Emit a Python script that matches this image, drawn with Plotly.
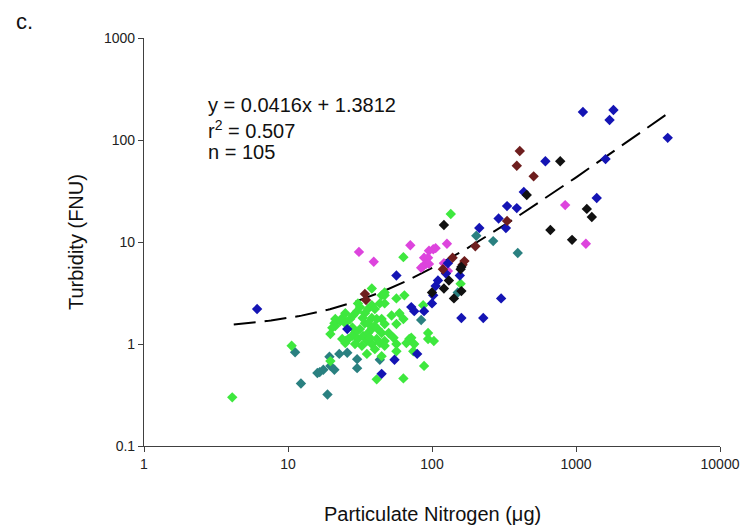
import numpy as np
import plotly.graph_objects as go

# ---- data ----
green_x = [4.1, 10.6, 19.7, 25, 21, 21.3, 23.8, 25, 21.3, 20.3, 23.1, 27, 28.3, 30.2, 31.6, 34.2, 35.9,
           38.2, 40.1, 43.4, 38.2, 41.3, 44.7, 34.2, 31.6, 29.2, 27.9, 26.2, 25, 23.8, 30.6, 33.2, 35.9,
           38.2, 42, 44.7, 35.3, 38.2, 41.3, 43.4, 32.6, 29.2, 35.3, 44.7, 40.1, 38.2, 44.7, 30.6, 46.9,
           56.6, 64.3, 46.9, 52.4, 59.4, 63.3, 46.9, 56.6, 50, 54.1, 46.9, 56.6, 66.4, 69.5, 75.3, 56.6,
           93.9, 93.9, 103, 88.1, 63.3, 74.1, 46.9, 46.9, 86.8, 71.8, 41.3, 63.3, 135, 158, 25, 19.7,
           36, 40, 33, 37, 28]
green_y = [0.30, 0.96, 0.68, 1.07, 1.6, 1.5, 1.8, 1.6, 1.76, 1.44, 1.68, 1.76, 1.9, 2.1, 2.3, 2.0, 2.2,
           2.4, 2.2, 2.5, 1.8, 1.76, 1.76, 1.6, 1.4, 1.28, 1.2, 1.12, 1.02, 1.12, 1.12, 1.2, 1.28,
           1.4, 1.4, 1.28, 1.07, 1.0, 1.12, 1.02, 0.96, 1.0, 0.80, 0.76, 0.89, 3.5, 3.0, 2.5, 3.0,
           2.8, 3.0, 2.5, 1.9, 2.0, 1.76, 1.57, 1.57, 1.28, 1.15, 1.07, 1.0, 1.02, 1.12, 1.0, 0.85,
           1.28, 1.12, 1.07, 0.61, 0.46, 0.85, 0.96, 3.2, 2.4, 1.15, 0.45, 7.1, 18.8, 3.9, 2.0, 1.25,
           1.6, 1.5, 1.8, 1.15, 1.45]

teal_x = [11.2, 12.3, 16.6, 17.6, 16.0, 18.8, 19.4, 21.0, 22.7, 25.8, 30.2, 19.7, 30.2, 43.4, 84.1,
          151, 203, 266, 394]
teal_y = [0.83, 0.41, 0.53, 0.56, 0.52, 0.32, 0.75, 0.56, 0.80, 0.82, 0.71, 0.61, 0.58, 0.70, 1.72,
          3.2, 11.5, 10.2, 7.8]

magenta_x = [31.1, 39.4, 70.7, 95.3, 102, 106, 127, 88.1, 93.9, 86.8, 91, 95.3, 84.1, 121, 129, 841, 1171]
magenta_y = [8.0, 6.4, 9.3, 8.2, 8.5, 8.7, 9.6, 7.0, 7.0, 5.8, 6.1, 6.1, 5.6, 6.2, 5.2, 23, 9.6]

blue_x = [6.1, 25.8, 44.7, 54.9, 78.9, 56.6, 71.8, 75.3, 88.1, 100, 102, 106, 110, 125, 129, 156, 160,
          227, 302, 213, 290, 332, 326, 388, 434, 613, 1117, 1820, 1710, 4335, 1604, 1393]
blue_y = [2.2, 1.40, 0.51, 0.70, 0.80, 4.7, 2.3, 2.1, 2.1, 2.5, 3.0, 3.7, 4.2, 4.9, 6.2, 4.7, 1.8,
          1.8, 2.8, 13.7, 17.0, 22.5, 13.7, 21.5, 31, 62, 188, 197, 157, 105, 65, 27]

maroon_x = [34.2, 34.8, 119, 139, 168, 163, 200, 332, 407, 388, 508]
maroon_y = [3.1, 2.7, 5.4, 7.0, 6.5, 6.0, 9.1, 16.1, 78, 56, 44]

black_x = [121, 100, 121, 131, 142, 160, 160, 158, 455, 777, 664, 939, 1189, 1288]
black_y = [14.7, 3.2, 3.5, 4.2, 2.8, 3.3, 5.7, 5.4, 28.9, 62, 13.1, 10.5, 21.1, 17.6]

# regression stated on the chart: y = 0.0416x + 1.3812
slope, intercept = 0.0416, 1.3812
trend_x = np.logspace(np.log10(4.2), np.log10(4400), 200)
trend_y = slope * trend_x + intercept

x_ticks = [1, 10, 100, 1000, 10000]
x_tick_labels = ["1", "10", "100", "1000", "10000"]
y_ticks = [0.1, 1, 10, 100, 1000]
y_tick_labels = ["0.1", "1", "10", "100", "1000"]

FONT = "Liberation Sans, Arial, sans-serif"

fig = go.Figure()

fig.add_trace(go.Scatter(x=trend_x, y=trend_y, mode="lines",
                         line=dict(color="black", width=2, dash="22px,9px"),
                         hoverinfo="skip"))

series = [
    (teal_x, teal_y, "#2a8080"),
    (green_x, green_y, "#3ee83e"),
    (magenta_x, magenta_y, "#dd44dd"),
    (blue_x, blue_y, "#1414b4"),
    (maroon_x, maroon_y, "#6e1e1e"),
    (black_x, black_y, "#111111"),
]
for xs, ys, c in series:
    fig.add_trace(go.Scatter(x=xs, y=ys, mode="markers",
                             marker=dict(symbol="diamond", size=8, color=c, line=dict(width=0))))

axis_common = dict(type="log", showgrid=False, zeroline=False, showline=True,
                   linecolor="#404040", linewidth=1.2, ticks="outside", ticklen=5,
                   tickcolor="#404040", tickfont=dict(family=FONT, size=14, color="#222"))

fig.update_xaxes(range=[0, 4], tickvals=x_ticks, ticktext=x_tick_labels, **axis_common)
fig.update_yaxes(range=[-1, 3], tickvals=y_ticks, ticktext=y_tick_labels, **axis_common)

anns = [
    dict(text="c.", x=-0.226, y=1.04, xanchor="left", yanchor="middle", font=dict(size=22)),
    dict(text="Turbidity (FNU)", x=-0.118, y=0.5, textangle=-90, xanchor="center", yanchor="middle",
         font=dict(size=20)),
    dict(text="Particulate Nitrogen (\u03bcg)", x=0.5, y=-0.167, xanchor="center", yanchor="middle",
         font=dict(size=20)),
    dict(text="y = 0.0416x + 1.3812", x=(207 - 144) / 584, y=(446 - 105) / 408, xanchor="left",
         yanchor="middle", font=dict(size=20)),
    dict(text="r<sup>2</sup> = 0.507", x=(207 - 144) / 584, y=(446 - 129) / 408, xanchor="left",
         yanchor="middle", font=dict(size=20)),
    dict(text="n = 105", x=(207 - 144) / 584, y=(446 - 152) / 408, xanchor="left",
         yanchor="middle", font=dict(size=20)),
]
for a in anns:
    a.setdefault("xref", "paper")
    a.setdefault("yref", "paper")
    a["showarrow"] = False
    a["font"] = dict(family=FONT, color="#111", **a["font"])
    fig.add_annotation(**a)

fig.update_layout(width=752, height=531, margin=dict(l=144, r=24, t=38, b=85),
                  paper_bgcolor="white", plot_bgcolor="white", showlegend=False)

fig.write_html("out.html")
